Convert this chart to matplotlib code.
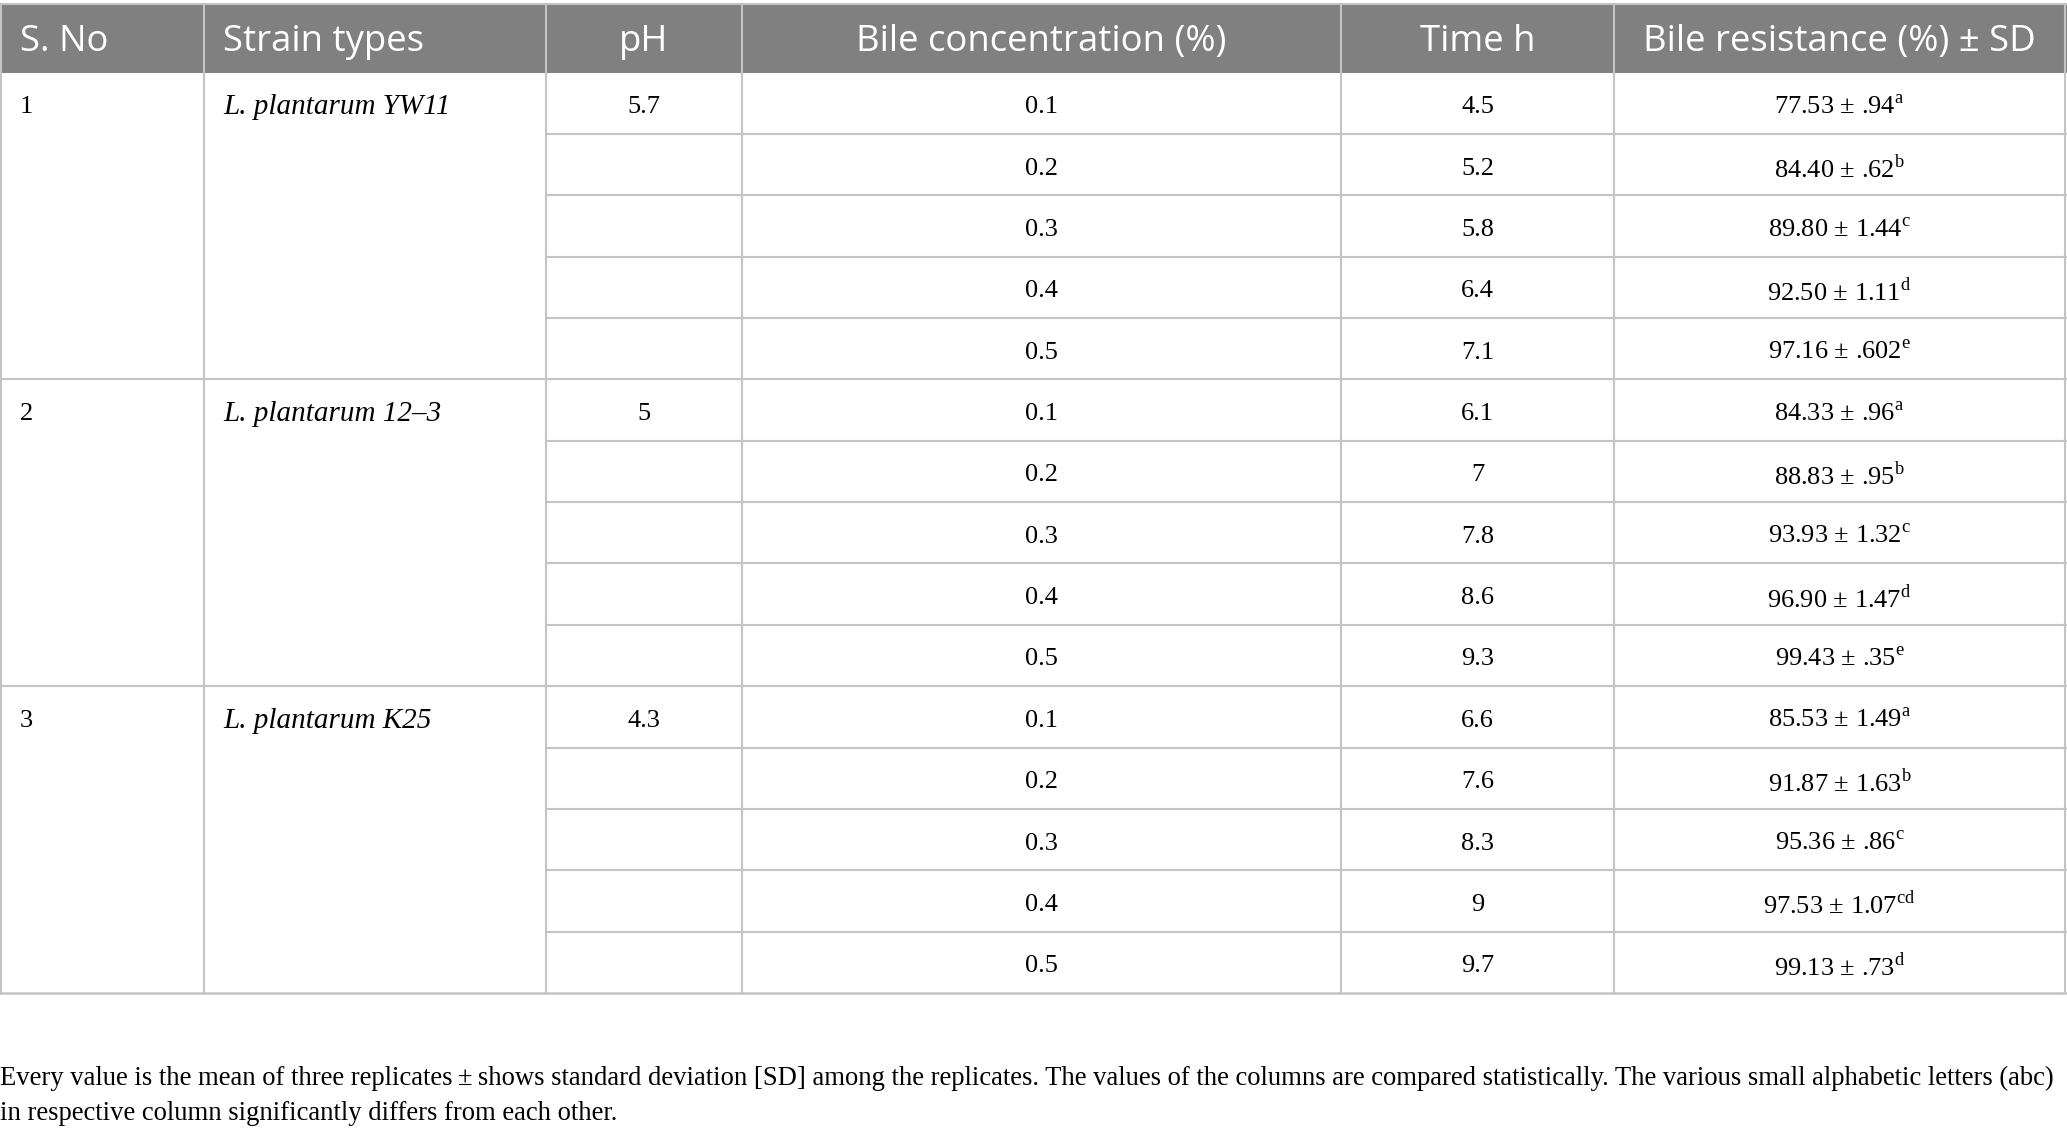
import matplotlib
matplotlib.use("Agg")
import matplotlib.pyplot as plt

# table contents
headers = ["S. No", "Strain types", "pH", "Bile concentration (%)", "Time h", "Bile resistance (%) ± SD"]
sno = ["1", "2", "3"]
strains = ["L. plantarum YW11", "L. plantarum 12–3", "L. plantarum K25"]
ph = ["5.7", "5", "4.3"]
bile_conc = ["0.1", "0.2", "0.3", "0.4", "0.5"]
time_h = [["4.5", "5.2", "5.8", "6.4", "7.1"],
          ["6.1", "7", "7.8", "8.6", "9.3"],
          ["6.6", "7.6", "8.3", "9", "9.7"]]
resist_mean = [["77.53", "84.40", "89.80", "92.50", "97.16"],
               ["84.33", "88.83", "93.93", "96.90", "99.43"],
               ["85.53", "91.87", "95.36", "97.53", "99.13"]]
resist_sd = [[".94", ".62", "1.44", "1.11", ".602"],
             [".96", ".95", "1.32", "1.47", ".35"],
             ["1.49", "1.63", ".86", "1.07", ".73"]]
letters = [["a", "b", "c", "d", "e"],
           ["a", "b", "c", "d", "e"],
           ["a", "b", "c", "cd", "d"]]
footnote = ["Every value is the mean of three replicates\u2009±\u2009shows standard deviation [SD] among the replicates. "
            "The values of the columns are compared statistically. The various small alphabetic letters (abc)",
            "in respective column significantly differs from each other."]

plt.rcParams["mathtext.fontset"] = "custom"
plt.rcParams["mathtext.rm"] = "Liberation Serif"

W, H = 2067, 1133
fig = plt.figure(figsize=(W / 100, H / 100), dpi=100)
ax = fig.add_axes([0, 0, 1, 1])
ax.set_xlim(0, W)
ax.set_ylim(H, 0)
ax.axis("off")

col_edges = [1, 204, 546, 742, 1341, 1614, 2065]
head_top, head_bot = 4, 72.5
row_h = (993 - head_bot) / 15
table_bot = head_bot + 15 * row_h
line_c = "#c4c4c4"
body_fs = 19
serif = "Liberation Serif"
dy = 4  # text sits a little below the cell centre

# header
ax.add_patch(plt.Rectangle((0, head_top), W, head_bot - head_top, color="#808080", lw=0))
for i, h in enumerate(headers):
    if i < 2:
        x, ha = col_edges[i] + 19, "left"
    else:
        x, ha = (col_edges[i] + col_edges[i + 1]) / 2, "center"
    ax.text(x, (head_top + head_bot) / 2 + 4, h, ha=ha, va="center", color="white",
            fontsize=26.3, family="Open Sans")

# grid lines
for x in col_edges:
    ax.plot([x, x], [head_top, table_bot], color=line_c, lw=1.5, solid_capstyle="butt")
ax.plot([0, W], [head_top, head_top], color=line_c, lw=1.5)
for k in range(1, 16):
    y = head_bot + k * row_h
    x0 = 0 if k % 5 == 0 else col_edges[2]
    ax.plot([x0, W], [y, y], color=line_c, lw=1.8 if k == 15 else 1.5)

# body
for g in range(3):
    y0 = head_bot + g * 5 * row_h + row_h / 2 + dy
    ax.text(col_edges[0] + 19, y0, sno[g], ha="left", va="center", fontsize=body_fs, family=serif)
    ax.text(col_edges[1] + 19, y0, strains[g], ha="left", va="center", fontsize=21,
            family=serif, style="italic")
    ax.text((col_edges[2] + col_edges[3]) / 2, y0, ph[g], ha="center", va="center",
            fontsize=body_fs, family=serif)
    for r in range(5):
        y = y0 + r * row_h
        ax.text((col_edges[3] + col_edges[4]) / 2, y, bile_conc[r], ha="center", va="center",
                fontsize=body_fs, family=serif)
        ax.text((col_edges[4] + col_edges[5]) / 2, y, time_h[g][r], ha="center", va="center",
                fontsize=body_fs, family=serif)
        s = f"{resist_mean[g][r]} ± {resist_sd[g][r]}" + r"$^{\mathrm{" + letters[g][r] + "}}$"
        ax.text((col_edges[5] + col_edges[6]) / 2, y, s, ha="center", va="center",
                fontsize=body_fs, family=serif)

# footnote, sized so that the first line spans the table width
t1 = ax.text(0, 1078, footnote[0], ha="left", va="center", fontsize=18, family=serif)
fig.canvas.draw()
w = t1.get_window_extent().width
fn_fs = 18 * 2060 / w
t1.set_fontsize(fn_fs)
ax.text(0, 1114, footnote[1], ha="left", va="center", fontsize=fn_fs, family=serif)

fig.savefig("out.png", dpi=100)
